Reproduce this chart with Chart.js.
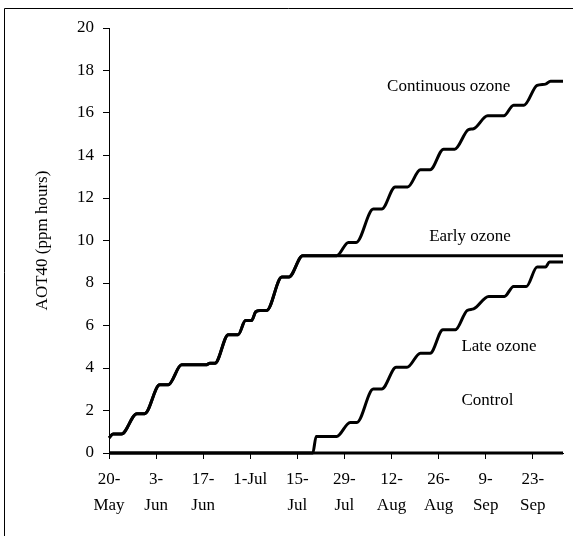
<!DOCTYPE html>
<html><head><meta charset="utf-8">
<script src="https://cdn.jsdelivr.net/npm/chart.js@4/dist/chart.umd.min.js"></script>
<style>html,body{margin:0;padding:0;background:#fff;}#wrap{position:relative;width:573px;height:536px;}</style>
</head><body><div id="wrap"><canvas id="c" width="573" height="536"></canvas></div>
<script>
// x values are days since 20-May
const tickDays = [0, 14, 28, 42, 56, 70, 84, 98, 112, 126];
const tickLabels = [['20-', 'May'], ['3-', 'Jun'], ['17-', 'Jun'], '1-Jul', ['15-', 'Jul'], ['29-', 'Jul'], ['12-', 'Aug'], ['26-', 'Aug'], ['9-', 'Sep'], ['23-', 'Sep']];
const seriesNames = ['Continuous ozone', 'Early ozone', 'Late ozone', 'Control'];

const continuousDays = [0, 1.2, 3.7, 8.3, 10.6, 15.1, 17.6, 21.6, 28.8, 30, 31.5, 35.5, 38.4, 40.6, 42.4, 43.6, 44.9, 46.9, 51.4, 53.5, 57.6, 67.7, 71.2, 73.5, 78.6, 81.1, 85.1, 88.8, 92.6, 95.5, 99.5, 102.8, 106.9, 108.4, 112.6, 117.4, 120.3, 123.4, 127.3, 129.8, 131.3, 135];
const continuousValues = [0.71, 0.89, 0.89, 1.85, 1.85, 3.21, 3.21, 4.15, 4.15, 4.22, 4.22, 5.57, 5.57, 6.23, 6.23, 6.64, 6.71, 6.71, 8.28, 8.28, 9.28, 9.28, 9.91, 9.91, 11.48, 11.48, 12.52, 12.52, 13.33, 13.33, 14.3, 14.3, 15.22, 15.26, 15.87, 15.87, 16.37, 16.37, 17.3, 17.36, 17.5, 17.5];

const earlyDays = [0, 1.2, 3.7, 8.3, 10.6, 15.1, 17.6, 21.6, 28.8, 30, 31.5, 35.5, 38.4, 40.6, 42.4, 43.6, 44.9, 46.9, 51.4, 53.5, 57.6, 135];
const earlyValues = [0.71, 0.89, 0.89, 1.85, 1.85, 3.21, 3.21, 4.15, 4.15, 4.22, 4.22, 5.57, 5.57, 6.23, 6.23, 6.64, 6.71, 6.71, 8.28, 8.28, 9.28, 9.28];

const lateDays = [0, 60.6, 61.6, 67.7, 71.7, 73.7, 78.6, 81.1, 85.4, 88.6, 92.6, 95.5, 99.3, 103, 106.5, 108.4, 112.9, 117.6, 120.3, 124.1, 127.3, 129.8, 131, 135];
const lateValues = [0, 0, 0.78, 0.78, 1.44, 1.44, 3.01, 3.01, 4.03, 4.03, 4.7, 4.7, 5.8, 5.8, 6.71, 6.78, 7.37, 7.37, 7.84, 7.84, 8.75, 8.75, 8.99, 8.99];

const controlDays = [0, 135];
const controlValues = [0, 0];

const FONT = 'Liberation Serif';
Chart.defaults.font.family = FONT;
Chart.defaults.font.size = 17;
Chart.defaults.color = '#000';

function pts(days, vals) { return days.map((d, i) => ({x: d, y: vals[i]})); }
function ds(label, days, vals) {
  return {label, data: pts(days, vals), borderColor: '#000', borderWidth: 3, pointRadius: 0,
    fill: false, cubicInterpolationMode: 'monotone', clip: false};
}

const labelSpots = [
  {text: seriesNames[0], x: 82.7, y: 17.24},
  {text: seriesNames[1], x: 95.2, y: 10.18},
  {text: seriesNames[2], x: 104.8, y: 5.0},
  {text: seriesNames[3], x: 104.8, y: 2.46}
];

const decor = {
  id: 'decor',
  beforeDraw(chart) {
    const ctx = chart.ctx;
    ctx.save();
    ctx.strokeStyle = '#000';
    ctx.lineWidth = 1;
    ctx.beginPath();
    ctx.moveTo(4.5, 536); ctx.lineTo(4.5, 8.5); ctx.lineTo(573, 8.5);
    ctx.stroke();
    ctx.restore();
  },
  afterDatasetsDraw(chart) {
    const {ctx, scales: {x, y}} = chart;
    ctx.save();
    ctx.font = '17px "' + FONT + '"';
    ctx.fillStyle = '#000';
    ctx.textAlign = 'left';
    ctx.textBaseline = 'middle';
    labelSpots.forEach(s => ctx.fillText(s.text, x.getPixelForValue(s.x), y.getPixelForValue(s.y)));
    ctx.restore();
  }
};

new Chart(document.getElementById('c'), {
  type: 'line',
  data: {datasets: [
    ds(seriesNames[0], continuousDays, continuousValues),
    ds(seriesNames[1], earlyDays, earlyValues),
    ds(seriesNames[2], lateDays, lateValues),
    ds(seriesNames[3], controlDays, controlValues)
  ]},
  options: {
    responsive: false, animation: false, devicePixelRatio: 1,
    layout: {padding: {left: 0, top: 28, right: 10, bottom: 0}},
    plugins: {legend: {display: false}, tooltip: {enabled: false}},
    scales: {
      x: {
        type: 'linear', min: 0, max: 135,
        afterBuildTicks: s => { s.ticks = tickDays.map(v => ({value: v})); },
        afterFit: s => { s.height = 83; },
        border: {display: true, color: '#000', width: 1},
        grid: {drawOnChartArea: false, drawTicks: true, tickLength: 6, color: '#000'},
        ticks: {
          padding: 8, maxRotation: 0, autoSkip: false,
          font: {size: 17, lineHeight: 1.53},
          callback: v => tickLabels[tickDays.indexOf(v)]
        }
      },
      y: {
        min: 0, max: 20,
        afterFit: s => { s.width = 109; },
        border: {display: true, color: '#000', width: 1},
        grid: {drawOnChartArea: false, drawTicks: true, tickLength: 6, color: '#000'},
        ticks: {stepSize: 2, padding: 9, font: {size: 17}},
        title: {display: true, text: 'AOT40 (ppm hours)', font: {size: 17}, padding: {top: 32, bottom: 0}}
      }
    }
  },
  plugins: [decor]
});
</script>
</body></html>
